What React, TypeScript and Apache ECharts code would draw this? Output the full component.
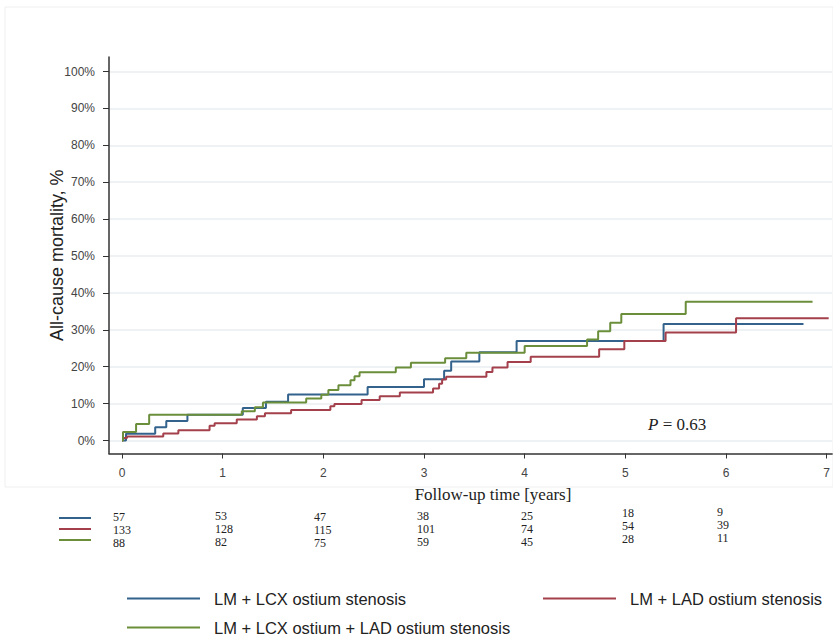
import React, { useEffect, useRef } from 'react';
import * as echarts from 'echarts';

// ---------- data ----------
const seriesNames = [
  'LM + LCX ostium stenosis',
  'LM + LAD ostium stenosis',
  'LM + LCX ostium + LAD ostium stenosis',
];
const seriesColors = ['#33638c', '#a4404b', '#6b8e3b'];

// step points: time (years) where the cumulative mortality (%) changes
const lcxTimes = [0, 0.04, 0.33, 0.44, 0.65, 1.2, 1.43, 1.65, 2.44, 3.0, 3.2, 3.27, 3.55, 3.92, 5.38, 6.77];
const lcxValues = [0, 1.8, 3.6, 5.3, 7.0, 8.8, 10.5, 12.5, 14.5, 16.6, 18.9, 21.4, 23.9, 27.0, 31.6, 31.6];

const ladTimes = [0, 0.01, 0.05, 0.41, 0.56, 0.87, 0.92, 1.14, 1.34, 1.42, 1.68, 2.07, 2.11, 2.38, 2.56, 2.76, 3.09, 3.15, 3.18, 3.22, 3.62, 3.68, 3.83, 4.06, 4.74, 4.99, 5.4, 6.1, 7.02];
const ladValues = [0, 0.7, 1.1, 1.9, 2.8, 4.0, 4.7, 5.7, 6.6, 7.4, 8.3, 9.3, 9.9, 11.0, 12.0, 13.0, 14.1, 15.4, 16.5, 17.3, 18.6, 19.8, 21.3, 22.7, 24.7, 27.0, 29.3, 33.1, 33.1];

const bothTimes = [0, 0.01, 0.14, 0.27, 1.19, 1.32, 1.4, 1.83, 1.98, 2.05, 2.15, 2.27, 2.31, 2.36, 2.72, 2.87, 3.21, 3.42, 4.0, 4.62, 4.73, 4.85, 4.96, 5.6, 6.86];
const bothValues = [0, 2.3, 4.5, 7.0, 7.9, 9.0, 10.3, 11.4, 12.4, 13.7, 15.0, 16.3, 17.4, 18.5, 19.8, 21.1, 22.3, 23.8, 25.6, 27.4, 29.6, 31.9, 34.3, 37.6, 37.6];

const xTicks = [0, 1, 2, 3, 4, 5, 6, 7];
const yTicks = [0, 10, 20, 30, 40, 50, 60, 70, 80, 90, 100];

// numbers at risk per group at years 0..6
const atRiskLcx = [57, 53, 47, 38, 25, 18, 9];
const atRiskLad = [133, 128, 115, 101, 74, 54, 39];
const atRiskBoth = [88, 82, 75, 59, 45, 28, 11];

const pValueText = '0.63';
const xTitle = 'Follow-up time [years]';
const yTitle = 'All-cause mortality, %';

// ---------- layout ----------
const SANS = '"Liberation Sans", Arial, sans-serif';
const SERIF = '"Liberation Serif", "Times New Roman", serif';
const tableColX = [113, 215, 314, 417, 521, 622, 717];
const tableColShift = [0, -1, 0, -1, -1, -4, -5];
const tableRowY = [517, 530, 543];
const tableLineY = [518, 529, 540];

export default function App() {
  const ref = useRef<HTMLDivElement>(null);

  useEffect(() => {
    if (!ref.current) return;
    const chart = echarts.init(ref.current, null, { renderer: 'svg' });

    const groups = [
      { times: lcxTimes, values: lcxValues, risk: atRiskLcx },
      { times: ladTimes, values: ladValues, risk: atRiskLad },
      { times: bothTimes, values: bothValues, risk: atRiskBoth },
    ];

    const series = groups.map((g, i) => ({
      name: seriesNames[i],
      type: 'line',
      step: 'end',
      data: g.times.map((t, k) => [t, g.values[k]]),
      showSymbol: false,
      symbol: 'none',
      lineStyle: { color: seriesColors[i], width: 2 },
      itemStyle: { color: seriesColors[i] },
      silent: true,
      z: 3 + i,
    }));

    const graphics: any[] = [
      {
        type: 'rect',
        shape: { x: 5, y: 7, width: 828, height: 480 },
        style: { fill: 'none', stroke: '#efefef', lineWidth: 1 },
        silent: true,
        z: -10,
      },
      {
        type: 'text',
        x: 493,
        y: 494,
        style: {
          text: xTitle,
          font: `17px ${SERIF}`,
          fill: '#222',
          textAlign: 'center',
          textVerticalAlign: 'middle',
        },
      },
      {
        type: 'text',
        x: 648,
        y: 424,
        style: {
          text: `{i|P} = ${pValueText}`,
          font: `17px ${SERIF}`,
          fill: '#222',
          textAlign: 'left',
          textVerticalAlign: 'middle',
          rich: {
            i: { fontStyle: 'italic', fontFamily: SERIF, fontSize: 17, fill: '#222' },
          },
        },
      },
    ];

    groups.forEach((g, r) => {
      graphics.push({
        type: 'line',
        shape: { x1: 59, y1: tableLineY[r], x2: 91, y2: tableLineY[r] },
        style: { stroke: seriesColors[r], lineWidth: 2 },
      });
      g.risk.forEach((n, c) => {
        graphics.push({
          type: 'text',
          x: tableColX[c],
          y: tableRowY[r] + tableColShift[c],
          style: {
            text: String(n),
            font: `12px ${SERIF}`,
            fill: '#222',
            textAlign: 'left',
            textVerticalAlign: 'middle',
          },
        });
      });
    });

    const legendBase = {
      icon: 'rect',
      itemWidth: 73,
      itemHeight: 2,
      padding: 0,
      selectedMode: false,
      textStyle: { fontSize: 16.5, fontFamily: SANS, color: '#222', padding: [0, 0, 0, 9] },
    };

    const option: any = {
      animation: false,
      backgroundColor: '#ffffff',
      grid: { left: 109, right: 0, top: 57, bottom: 188.5, containLabel: false },
      xAxis: {
        type: 'value',
        min: -0.129,
        max: 7.054,
        axisLine: { show: true, onZero: false, lineStyle: { color: '#333', width: 1.5 } },
        axisTick: { show: true, length: 5, customValues: xTicks, lineStyle: { color: '#333', width: 1 } },
        axisLabel: {
          customValues: xTicks,
          margin: 13,
          fontSize: 12,
          fontFamily: SANS,
          color: '#444',
        },
        splitLine: { show: false },
      },
      yAxis: {
        type: 'value',
        min: -3.52,
        max: 103.93,
        name: yTitle,
        nameLocation: 'middle',
        nameGap: 43,
        nameMoveOverlap: false,
        nameTextStyle: { fontSize: 18, fontFamily: SANS, color: '#222' },
        axisLine: { show: true, onZero: false, lineStyle: { color: '#333', width: 1.5 } },
        axisTick: { show: true, length: 6, customValues: yTicks, lineStyle: { color: '#333', width: 1 } },
        axisLabel: {
          customValues: yTicks,
          margin: 14,
          fontSize: 12,
          fontFamily: SANS,
          color: '#444',
          formatter: (v: number) => `${Math.round(v)}%`,
        },
        splitLine: { show: true, lineStyle: { color: '#eaeef2', width: 1.5 } },
      },
      legend: [
        { ...legendBase, data: [seriesNames[0]], left: 127, top: 590 },
        { ...legendBase, data: [seriesNames[1]], left: 543, top: 590 },
        { ...legendBase, data: [seriesNames[2]], left: 127, top: 619 },
      ],
      series,
      graphic: graphics,
    };

    chart.setOption(option);
    return () => chart.dispose();
  }, []);

  return (
    <div
      ref={ref}
      style={{ position: 'fixed', left: 0, top: 0, width: 833, height: 642, background: '#fff' }}
    />
  );
}
